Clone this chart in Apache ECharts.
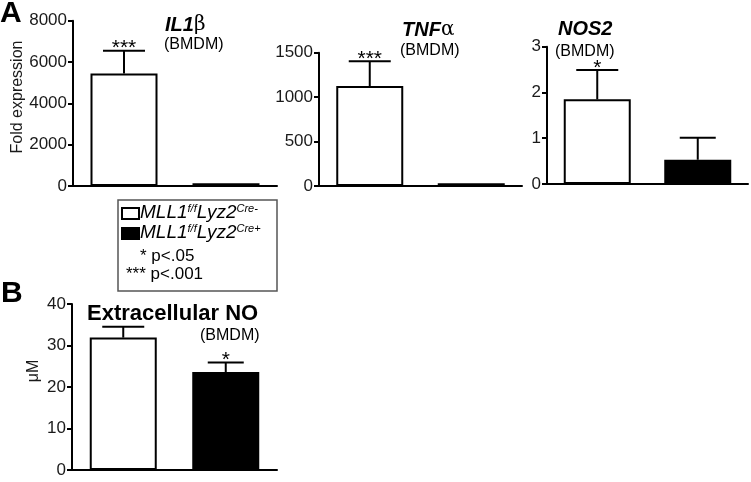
<!DOCTYPE html>
<html lang="en">
<head>
<meta charset="UTF-8">
<title>MLL1 BMDM</title>
<script src="https://cdn.jsdelivr.net/npm/echarts@6/dist/echarts.min.js"></script>
<style>
html,body{margin:0;padding:0;background:#fff;}
#main{width:751px;height:482px;}
</style>
</head>
<body>
<div id="main"></div>
<script>
// genotypes (white bar, black bar)
var groups = ['MLL1f/f Lyz2Cre-', 'MLL1f/f Lyz2Cre+'];

// A: fold expression
var il1b = [5450, 130];
var il1bErr = [1100, 0];
var il1bStars = ['***', ''];
var tnfa = [1125, 30];
var tnfaErr = [280, 0];
var tnfaStars = ['***', ''];
var nos2 = [1.85, 0.53];
var nos2Err = [0.64, 0.48];
var nos2Stars = ['*', ''];

// B: extracellular NO (uM)
var no = [31.9, 23.6];
var noErr = [2.6, 2.3];
var noStars = ['', '*'];

var yMax = [8000, 1500, 3, 40];
var yStep = [2000, 500, 1, 10];

var FONT = "'Liberation Sans', Arial, sans-serif";

var grids = [
	{left: 73, top: 20.7, width: 204, height: 165.3},
	{left: 319, top: 52.7, width: 203, height: 133.3},
	{left: 547, top: 46.7, width: 201, height: 137.3},
	{left: 72, top: 304, width: 205, height: 166}
];

var xAxes = [], yAxes = [], series = [];
var panels = [
	[il1b, il1bErr, il1bStars],
	[tnfa, tnfaErr, tnfaStars],
	[nos2, nos2Err, nos2Stars],
	[no, noErr, noStars]
];

function errRender(errs, stars) {
	return function (params, api) {
		var i = api.value(0);
		var v = api.value(1);
		var e = errs[i];
		var base = api.coord([i, v]);
		var top = api.coord([i, v + e]);
		var hw = i == 0 ? 21 : 18;
		var kids = [];
		if (e > 0) {
			kids.push({type: 'line', shape: {x1: base[0], y1: base[1], x2: top[0], y2: top[1]}, style: {stroke: '#000', lineWidth: 2}});
			kids.push({type: 'line', shape: {x1: top[0] - hw, y1: top[1], x2: top[0] + hw, y2: top[1]}, style: {stroke: '#000', lineWidth: 2}});
		}
		if (stars[i]) {
			kids.push({type: 'text', x: top[0], y: top[1] - 2, style: {text: stars[i], align: 'center', verticalAlign: 'middle', font: '21px ' + FONT, fill: '#000'}});
		}
		return {type: 'group', children: kids};
	};
}

for (var p = 0; p < panels.length; p++) {
	xAxes.push({
		gridIndex: p, type: 'category', data: groups,
		axisLine: {lineStyle: {color: '#000', width: 2}},
		axisTick: {show: false}, axisLabel: {show: false}, splitLine: {show: false}
	});
	yAxes.push({
		gridIndex: p, type: 'value', min: 0, max: yMax[p], interval: yStep[p],
		axisLine: {show: true, lineStyle: {color: '#000', width: 2}},
		axisTick: {show: true, length: 5, lineStyle: {color: '#000', width: 2}},
		axisLabel: {fontSize: 17, color: '#1a1a1a', margin: 6, fontFamily: FONT, formatter: function (v) { return String(v); }},
		splitLine: {show: false}
	});
	var vals = panels[p][0];
	series.push({
		type: 'bar', xAxisIndex: p, yAxisIndex: p, barWidth: 67, animation: false,
		data: [
			{value: vals[0], itemStyle: {color: '#fff', borderColor: '#000', borderWidth: 2}},
			{value: vals[1], itemStyle: {color: '#000', borderColor: '#000', borderWidth: 2}}
		]
	});
	series.push({
		type: 'custom', xAxisIndex: p, yAxisIndex: p, animation: false, z: 5,
		renderItem: errRender(panels[p][1], panels[p][2]),
		data: [[0, vals[0]], [1, vals[1]]]
	});
}

function txt(x, y, text, font, extra) {
	var s = {text: text, x: x, y: y, font: font + ' ' + FONT, fill: '#000', align: 'left', verticalAlign: 'middle'};
	for (var k in extra) s[k] = extra[k];
	return {type: 'text', style: s, z: 10};
}

var richTitle = {
	b: {fontFamily: FONT, fontSize: 20, fontWeight: 'bold', fontStyle: 'italic', color: '#000'},
	g: {fontFamily: 'DejaVu Serif, serif', fontSize: 20, color: '#000'}
};
var richLeg = {
	m: {fontFamily: FONT, fontSize: 19, fontStyle: 'italic', color: '#000', lineHeight: 20},
	s: {fontFamily: FONT, fontSize: 11, fontStyle: 'italic', color: '#000', verticalAlign: 'top', lineHeight: 12}
};

var graphics = [
	txt(0, 14, 'A', 'bold 30px'),
	txt(1, 294, 'B', 'bold 30px'),
	{type: 'text', x: 18, y: 97, rotation: Math.PI / 2, style: {text: 'Fold expression', font: '16px ' + FONT, fill: '#1a1a1a', align: 'center', verticalAlign: 'middle'}},
	{type: 'text', x: 34, y: 371, rotation: Math.PI / 2, style: {text: 'μM', font: '16px ' + FONT, fill: '#1a1a1a', align: 'center', verticalAlign: 'middle'}},
	txt(165, 25, '{b|IL1}{g|β}', '20px', {rich: richTitle}),
	txt(164, 45, '(BMDM)', '16px'),
	txt(402, 30, '{b|TNF}{g|α}', '20px', {rich: richTitle}),
	txt(400, 51, '(BMDM)', '16px'),
	txt(558, 29, '{b|NOS2}', '20px', {rich: richTitle}),
	txt(555, 52, '(BMDM)', '16px'),
	txt(87, 314, 'Extracellular NO', 'bold 22px'),
	txt(200, 336, '(BMDM)', '16px'),
	// legend box
	{type: 'rect', shape: {x: 118, y: 200, width: 159, height: 91}, style: {fill: 'none', stroke: '#555', lineWidth: 1.5}},
	{type: 'rect', shape: {x: 122, y: 208, width: 17, height: 11}, style: {fill: '#fff', stroke: '#000', lineWidth: 2}},
	{type: 'rect', shape: {x: 122, y: 228, width: 17, height: 11}, style: {fill: '#000', stroke: '#000', lineWidth: 2}},
	txt(140, 213, '{m|MLL1}{s|f/f}{m|Lyz2}{s|Cre-}', '19px', {rich: richLeg}),
	txt(140, 233, '{m|MLL1}{s|f/f}{m|Lyz2}{s|Cre+}', '19px', {rich: richLeg}),
	txt(140, 256, '* p<.05', '17px', {align: 'left'}),
	txt(126, 274, '*** p<.001', '17px', {align: 'left'})
];

var myChart = echarts.init(document.getElementById('main'), null, {renderer: 'canvas'});
myChart.setOption({
	animation: false,
	backgroundColor: '#fff',
	grid: grids,
	xAxis: xAxes,
	yAxis: yAxes,
	series: series,
	graphic: graphics
});
</script>
</body>
</html>
